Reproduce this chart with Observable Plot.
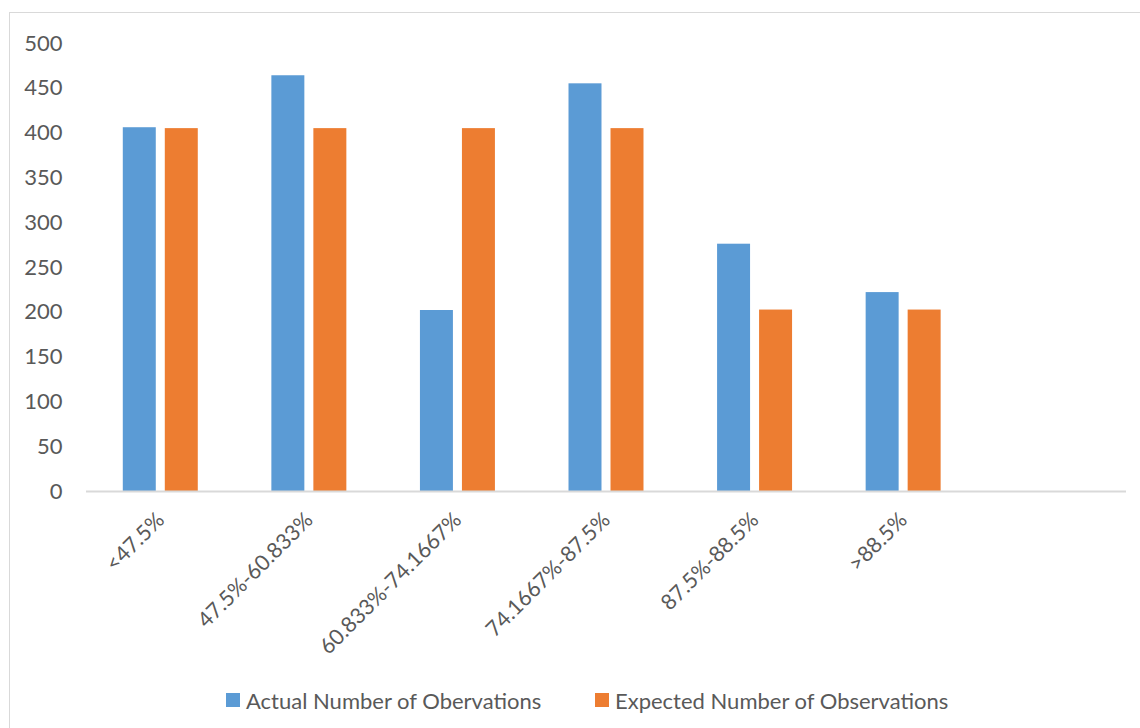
<!DOCTYPE html>
<html>
<head>
<meta charset="utf-8">
<script src="https://cdn.jsdelivr.net/npm/d3@7"></script>
<script src="https://cdn.jsdelivr.net/npm/@observablehq/plot@0.6"></script>
<style>
  html, body { margin: 0; padding: 0; background: #fff; }
  body { width: 1140px; height: 728px; position: relative; overflow: hidden; font-family: Lato, "Open Sans", sans-serif; }
  #frame { position: absolute; left: 9px; top: 12px; width: 1140px; height: 730px; border: 1px solid #D9D9D9; box-sizing: border-box; }
  #chart { position: absolute; left: 0; top: 0; }
  #legend { position: absolute; left: 0; top: 686px; width: 1140px; height: 28px; font-size: 22px; color: #595959; }
  .item { position: absolute; top: 0; display: flex; align-items: center; height: 28px; white-space: nowrap; }
  .swatch { width: 14px; height: 14px; margin-right: 6px; }
</style>
</head>
<body>
<div id="frame"></div>
<div id="chart"></div>
<div id="legend"></div>
<script>
const categories = ["<47.5%", "47.5%-60.833%", "60.833%-74.1667%", "74.1667%-87.5%", "87.5%-88.5%", ">88.5%"];
const actual = [406, 464, 202, 455, 276, 222];
const expected = [405, 405, 405, 405, 202.5, 202.5];
const seriesNames = ["Actual Number of Obervations", "Expected Number of Observations"];
const seriesColors = ["#5B9BD5", "#ED7D31"];
const yTicks = [0, 50, 100, 150, 200, 250, 300, 350, 400, 450, 500];

const actualRows = categories.map((c, i) => ({category: c, series: seriesNames[0], value: actual[i]}));
const expectedRows = categories.map((c, i) => ({category: c, series: seriesNames[1], value: expected[i]}));

const chart = Plot.plot({
  width: 1140,
  height: 670,
  marginLeft: 86,
  marginRight: 14,
  marginTop: 43,
  marginBottom: 179,
  style: {background: "transparent", color: "#595959", fontFamily: "Lato, 'Open Sans', sans-serif", fontSize: "22px"},
  x: {domain: [...categories, ""], paddingInner: 0.778, paddingOuter: 0.389, round: false, label: null},
  y: {domain: [0, 500], label: null},
  color: {domain: seriesNames, range: seriesColors},
  marks: [
    Plot.barY(actualRows, {x: "category", y: "value", fill: "series", dx: -21}),
    Plot.barY(expectedRows, {x: "category", y: "value", fill: "series", dx: 21}),
    Plot.ruleY([0], {stroke: "#D9D9D9", strokeWidth: 2}),
    Plot.axisY({ticks: yTicks, tickSize: 0, tickPadding: 24, label: null, fontSize: 22, fill: "#595959"}),
    Plot.axisX({ticks: categories, tickSize: 0, tickRotate: -45, tickPadding: 25, label: null, fontSize: 21.5, fill: "#595959"})
  ]
});
document.getElementById("chart").appendChild(chart);

const legend = document.getElementById("legend");
const lefts = [226, 595];
seriesNames.forEach((name, i) => {
  const item = document.createElement("div");
  item.className = "item";
  item.style.left = lefts[i] + "px";
  const sw = document.createElement("span");
  sw.className = "swatch";
  sw.style.background = seriesColors[i];
  const tx = document.createElement("span");
  tx.textContent = name;
  item.appendChild(sw);
  item.appendChild(tx);
  legend.appendChild(item);
});
</script>
</body>
</html>
